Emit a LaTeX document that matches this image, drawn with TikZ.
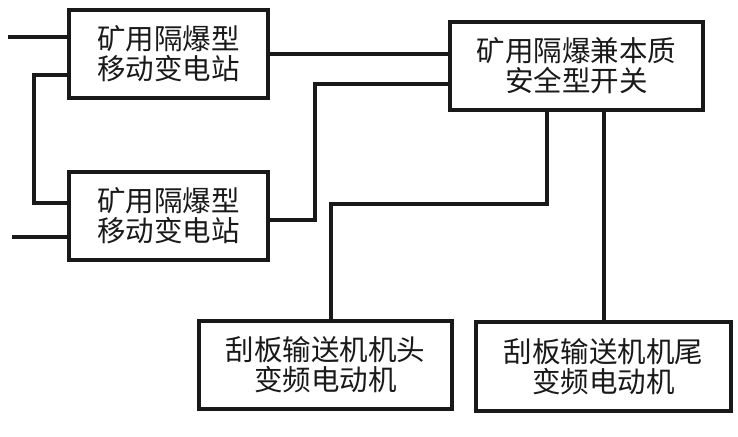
\documentclass[tikz,border=0pt]{standalone}
\usepackage{fontspec}
\newfontfamily\cjk{Noto Sans CJK SC}
\begin{document}
\begin{tikzpicture}[x=1pt,y=-1pt,
  box/.style={draw=black!90,line width=3.5pt,inner sep=0pt,align=center,
    font=\cjk\fontsize{28.5}{30}\selectfont,text=black!90},
  wire/.style={draw=black!90,line width=3.5pt}]
\useasboundingbox[fill=white] (0,0) rectangle (738,436);
\node[box,minimum width=199pt,minimum height=88pt] (b1) at (168.5,54) {矿用隔爆型\\移动变电站};
\node[box,minimum width=199pt,minimum height=88pt] (b2) at (168.5,216) {矿用隔爆型\\移动变电站};
\node[box,minimum width=253pt,minimum height=88pt] (b3) at (576.5,66) {矿用隔爆兼本质\\安全型开关};
\node[box,minimum width=253pt,minimum height=88pt] (b4) at (325.5,365) {刮板输送机机头\\变频电动机};
\node[box,minimum width=255pt,minimum height=89pt] (b5) at (603.5,366.5) {刮板输送机机尾\\变频电动机};
\coordinate (in1) at (8,37);
\coordinate (in2) at (12,237);
\coordinate (l1) at (34,75);
\coordinate (l2) at (34,203);
\coordinate (k1) at (315,220);
\coordinate (k2) at (315,84);
\coordinate (m1) at (547,204);
\coordinate (m2) at (331,204);
\coordinate (r) at (604,0);
\draw[wire] (in1) -- (in1 -| b1.west);
\draw[wire] (in2) -- (in2 -| b2.west);
\draw[wire] (l1 -| b1.west) -- (l1) -- (l2) -- (l2 -| b2.west);
\draw[wire] (b1.east) -- (b1.east -| b3.west);
\draw[wire] (k1 -| b2.east) -- (k1) -- (k2) -- (k2 -| b3.west);
\draw[wire] (m1 |- b3.south) -- (m1) -- (m2) -- (m2 |- b4.north);
\draw[wire] (r |- b3.south) -- (r |- b5.north);
\end{tikzpicture}
\end{document}
